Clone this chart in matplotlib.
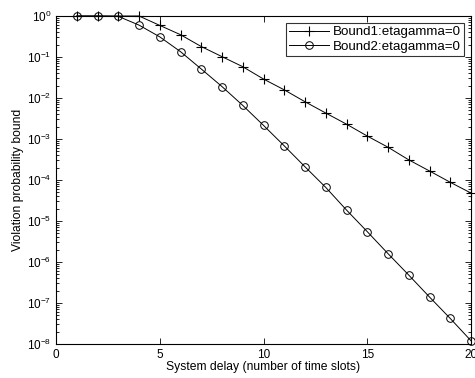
import matplotlib
matplotlib.use("Agg")
import matplotlib.pyplot as plt
from matplotlib.ticker import LogLocator, NullFormatter, FixedLocator

plt.rcParams['font.family'] = ['Liberation Sans', 'DejaVu Sans']
plt.rcParams['mathtext.fontset'] = 'custom'
plt.rcParams['mathtext.rm'] = 'Liberation Sans'

x = list(range(1, 21))
bound1 = [1.0, 1.0, 1.0, 1.0, 0.59, 0.35, 0.18, 0.102, 0.058, 0.029,
          0.0158, 0.0081, 0.0043, 0.0023, 0.00118, 6.3e-4, 3.1e-4, 1.66e-4, 8.8e-5, 4.8e-5]
bound2 = [1.0, 1.0, 0.98, 0.6, 0.31, 0.135, 0.051, 0.019, 6.6e-3, 2.15e-3,
          6.8e-4, 2.1e-4, 6.6e-5, 1.85e-5, 5.5e-6, 1.6e-6, 4.8e-7, 1.4e-7, 4.2e-8, 1.2e-8]
labels = ['Bound1:etagamma=0', 'Bound2:etagamma=0']
xticks = [0, 5, 10, 15, 20]

fig = plt.figure(figsize=(4.75, 3.78), dpi=100)
ax = fig.add_axes([56/475, 1-344/378, (471-56)/475, (344-16)/378])
ax.semilogy(x, bound1, '-', color='black', marker='+', markersize=6.5, mew=0.8, lw=0.7,
            label=labels[0], clip_on=False)
ax.semilogy(x, bound2, '-', color='black', marker='o', markersize=5.5, mfc='none', mew=0.7, lw=0.7,
            label=labels[1], clip_on=False)
ax.set_xlim(0, 20)
ax.set_ylim(1e-8, 1)
ax.xaxis.set_major_locator(FixedLocator(xticks))
ax.yaxis.set_major_locator(LogLocator(base=10, numticks=20))
ax.yaxis.set_minor_locator(LogLocator(base=10, subs=range(2, 10), numticks=20))
ax.yaxis.set_minor_formatter(NullFormatter())
ax.tick_params(which='both', direction='in', top=True, right=True, labelsize=8.5, width=0.6)
ax.tick_params(which='major', length=4)
ax.tick_params(which='minor', length=2)
for s in ax.spines.values():
    s.set_linewidth(0.8)
ax.set_xlabel('System delay (number of time slots)', fontsize=8.7, labelpad=0)
ax.set_ylabel('Violation probability bound', fontsize=8.7, labelpad=2)
leg = ax.legend(loc='upper right', fontsize=9.6, frameon=True, fancybox=False,
                edgecolor='black', handlelength=3.0, borderpad=0.25, labelspacing=0.15,
                borderaxespad=0.5, handletextpad=0.3)
leg.get_frame().set_linewidth(0.8)
fig.savefig('out.png', dpi=100)
